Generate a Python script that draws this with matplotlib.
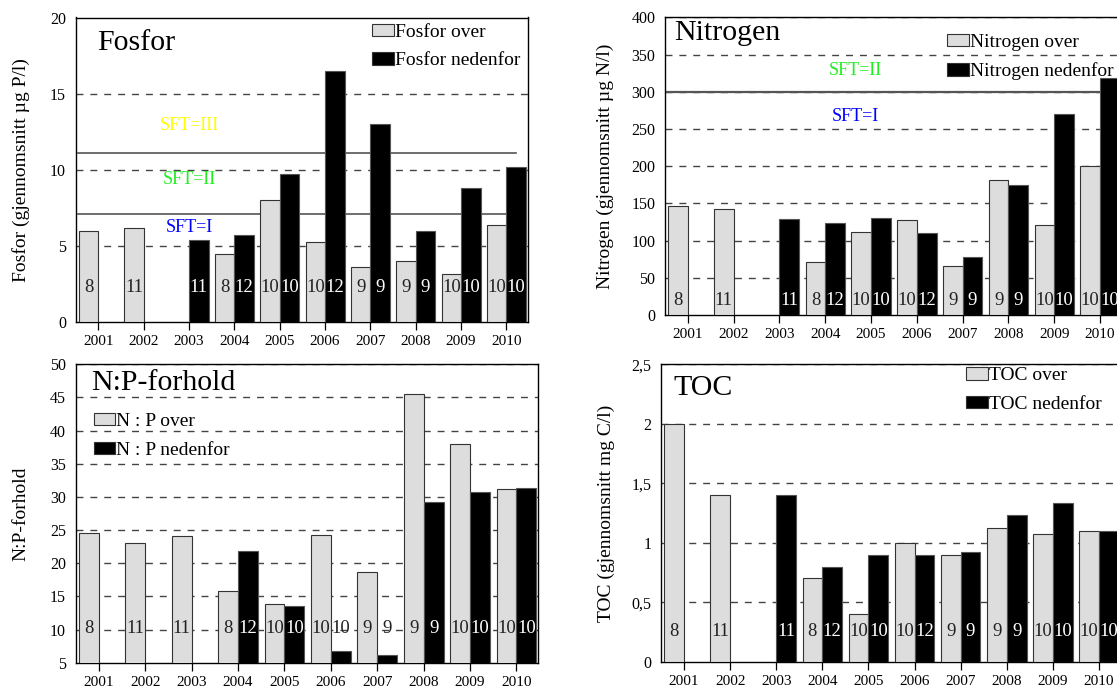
import numpy as np
import matplotlib.pyplot as plt
from matplotlib.patches import Patch
from matplotlib.ticker import FuncFormatter

plt.rcParams['font.family'] = ['Liberation Serif', 'DejaVu Serif']

years = ['2001', '2002', '2003', '2004', '2005', '2006', '2007', '2008', '2009', '2010']
nan = np.nan

# mean values per year (over / nedenfor)
fosfor_over = [6.0, 6.2, nan, 4.5, 8.0, 5.3, 3.6, 4.0, 3.2, 6.4]
fosfor_ned = [nan, nan, 5.4, 5.7, 9.7, 16.5, 13.0, 6.0, 8.8, 10.2]
nitrogen_over = [147, 142, nan, 71, 111, 128, 66, 181, 121, 200]
nitrogen_ned = [nan, nan, 129, 124, 130, 110, 78, 175, 270, 319]
np_over = [24.5, 23.0, 24.1, 15.8, 13.9, 24.2, 18.7, 45.5, 38.0, 31.2]
np_ned = [nan, nan, nan, 21.8, 13.5, 6.8, 6.1, 29.2, 30.7, 31.3]
toc_over = [2.0, 1.40, nan, 0.70, 0.40, 1.0, 0.90, 1.12, 1.07, 1.10]
toc_ned = [nan, nan, 1.40, 0.80, 0.90, 0.90, 0.92, 1.23, 1.33, 1.10]

# number of samples
n_over = [8, 11, None, 8, 10, 10, 9, 9, 10, 10]
n_ned = [None, None, 11, 12, 10, 12, 9, 9, 10, 10]
np_n_over = [8, 11, 11, 8, 10, 10, 9, 9, 10, 10]
np_n_ned = [None, None, None, 12, 10, 10, 9, 9, 10, 10]

# SFT class limits and labels
fosfor_limits = [7.1, 11.1]
fosfor_sft = [('SFT=III', 12.9, '#ffff00'), ('SFT=II', 9.4, '#22ee22'), ('SFT=I', 6.25, '#0000ff')]
nitrogen_limits = [300]
nitrogen_sft = [('SFT=II', 328, '#22ee22'), ('SFT=I', 267, '#0000ff')]

GREY = '#dddddd'
W = 0.43
x = np.arange(1, 11)

fig = plt.figure(figsize=(11.17, 6.89), dpi=100)


def panel(rect, over, ned, c_over, c_ned, ylim, step, lab_y, name, ylabel,
          leg_names, leg_xy, title_xy, ylab_x, comma=False):
    ax = fig.add_axes(rect)
    over = np.array(over, dtype=float)
    ned = np.array(ned, dtype=float)
    m1 = ~np.isnan(over)
    m2 = ~np.isnan(ned)
    ax.bar(x[m1] - W / 2, over[m1], W, color=GREY, edgecolor='#333333', linewidth=0.8, zorder=3)
    ax.bar(x[m2] + W / 2, ned[m2], W, color='black', edgecolor='#555555', linewidth=0.8, zorder=3)
    for i in range(10):
        if c_over[i] is not None:
            ax.text(x[i] - W / 2, lab_y, str(c_over[i]), ha='center', va='center',
                    fontsize=13.5, color='#222222', zorder=5)
        if c_ned[i] is not None:
            col = 'white' if ned[i] > lab_y * 1.05 + ylim[0] * 0.1 else '#222222'
            ax.text(x[i] + W / 2, lab_y, str(c_ned[i]), ha='center', va='center',
                    fontsize=13.5, color=col, zorder=5)
    ax.set_xlim(0.5, 10.47)
    ax.set_ylim(*ylim)
    ticks = np.arange(ylim[0], ylim[1] + step / 2, step)
    ax.set_yticks(ticks)
    for t in ticks[1:]:
        ax.axhline(t, color='#444444', lw=1.0, ls=(0, (5, 5)), zorder=1)
    if comma:
        ax.yaxis.set_major_formatter(FuncFormatter(lambda v, p: f'{v:g}'.replace('.', ',')))
    ax.set_xticks(x)
    ax.set_xticklabels(years)
    ax.tick_params(axis='x', length=5.5, width=0.9, labelsize=11, pad=4)
    ax.tick_params(axis='y', length=0, labelsize=11.5, pad=7)
    for s in ax.spines.values():
        s.set_linewidth(1.0)
        s.set_color('black')
    ax.text(title_xy[0], title_xy[1], name, transform=ax.transAxes, fontsize=21.5,
            ha='left', va='center')
    ax.set_ylabel(ylabel, fontsize=14)
    ax.yaxis.set_label_coords(ylab_x, 0.5)
    handles = [Patch(facecolor=GREY, edgecolor='#333333', linewidth=0.8),
               Patch(facecolor='black', edgecolor='#333333', linewidth=0.8)]
    ax.legend(handles, leg_names, loc='upper left', bbox_to_anchor=leg_xy, frameon=False,
              fontsize=14, handlelength=1.1, handleheight=0.6, handletextpad=0.05,
              labelspacing=0.6, borderpad=0, borderaxespad=0)
    return ax


ax1 = panel([75.7 / 1117, 1 - 322.3 / 689, 452 / 1117, 304.8 / 689],
            fosfor_over, fosfor_ned, n_over, n_ned, (0, 20), 5, 2.3, 'Fosfor',
            'Fosfor (gjennomsnitt µg P/l)', ['Fosfor over', 'Fosfor nedenfor'],
            (0.656, 0.98), (0.047, 0.915), -0.10)
for v in fosfor_limits:
    ax1.axhline(v, xmin=0.006, xmax=0.974, color='#555555', lw=1.2, zorder=2)
for txt, yv, col in fosfor_sft:
    ax1.text(3.0, yv, txt, color=col, fontsize=13, ha='center', va='center')

ax2 = panel([665 / 1117, 1 - 315 / 689, 456.6 / 1117, 297.7 / 689],
            nitrogen_over, nitrogen_ned, n_over, n_ned, (0, 400), 50, 19, 'Nitrogen',
            'Nitrogen (gjennomsnitt µg N/l)', ['Nitrogen over', 'Nitrogen nedenfor'],
            (0.618, 0.945), (0.019, 0.947), -0.112)
for v in nitrogen_limits:
    ax2.axhline(v, color='#555555', lw=1.6, zorder=2)
for txt, yv, col in nitrogen_sft:
    ax2.text(4.65, yv, txt, color=col, fontsize=13, ha='center', va='center')

ax3 = panel([75.7 / 1117, 1 - 662.7 / 689, 462.6 / 1117, 298.4 / 689],
            np_over, np_ned, np_n_over, np_n_ned, (5, 50), 5, 10.2, 'N:P-forhold',
            'N:P-forhold', ['N : P over', 'N : P nedenfor'],
            (0.039, 0.837), (0.033, 0.937), -0.10)

ax4 = panel([661 / 1117, 1 - 661.7 / 689, 459.6 / 1117, 297.4 / 689],
            toc_over, toc_ned, n_over, n_ned, (0, 2.5), 0.5, 0.25, 'TOC',
            'TOC (gjennomsnitt mg C/l)', ['TOC over', 'TOC nedenfor'],
            (0.664, 0.99), (0.027, 0.92), -0.10, comma=True)

fig.savefig('out.png', dpi=100)
